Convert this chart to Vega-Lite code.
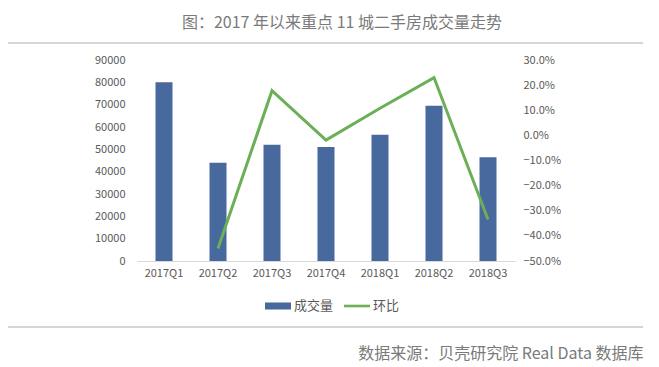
{
  "$schema": "https://vega.github.io/schema/vega-lite/v6.json",
  "width": 378,
  "height": 201,
  "autosize": {"type": "none"},
  "padding": {"left": 137, "top": 60, "right": 144, "bottom": 106},
  "background": "white",
  "config": {
    "font": "Noto Sans CJK SC",
    "view": {"stroke": null},
    "axis": {"grid": false, "ticks": false, "labelFont": "Noto Sans CJK SC", "labelFontSize": 11, "labelColor": "#595959"}
  },
  "title": {
    "text": "图：2017 年以来重点 11 城二手房成交量走势",
    "fontSize": 16,
    "fontWeight": "normal",
    "color": "#7a7a7a",
    "font": "Noto Sans CJK SC",
    "anchor": "middle",
    "frame": "group",
    "dx": 16,
    "offset": 11
  },
  "datasets": {
    "main": [
      {"q": "2017Q1", "vol": 80000, "mom": null},
      {"q": "2017Q2", "vol": 44000, "mom": -0.45},
      {"q": "2017Q3", "vol": 52000, "mom": 0.178},
      {"q": "2017Q4", "vol": 51000, "mom": -0.019},
      {"q": "2018Q1", "vol": 56500, "mom": 0.108},
      {"q": "2018Q2", "vol": 69500, "mom": 0.23},
      {"q": "2018Q3", "vol": 46500, "mom": -0.335}
    ],
    "deco": [{"k": 1}]
  },
  "layer": [
    {
      "data": {"name": "main"},
      "mark": {"type": "bar", "color": "#48699E"},
      "encoding": {
        "x": {
          "field": "q", "type": "ordinal", "sort": null,
          "scale": {"paddingInner": 0.685, "paddingOuter": 0.3425},
          "axis": {
            "labelAngle": 0, "labelPadding": 6, "domainColor": "#d9d9d9", "domainWidth": 1,
            "title": "数据来源：贝壳研究院 Real Data 数据库",
            "titleFontSize": 16, "titleFontWeight": "normal", "titleColor": "#7a7a7a",
            "titleX": 506, "titleY": 97, "titleAlign": "right", "titleBaseline": "alphabetic", "titleAnchor": null
          }
        },
        "y": {
          "field": "vol", "type": "quantitative",
          "scale": {"domain": [0, 90000], "nice": false},
          "axis": {
            "orient": "left", "title": null, "domain": false,
            "values": [0, 10000, 20000, 30000, 40000, 50000, 60000, 70000, 80000, 90000],
            "format": "d", "labelPadding": 12
          }
        },
        "color": {
          "datum": "成交量", "type": "nominal",
          "scale": {"domain": ["成交量", "环比"], "range": ["#48699E", "#6BAF56"]},
          "legend": {
            "orient": "none", "legendX": 128, "legendY": 233,
            "direction": "horizontal", "title": null,
            "labelFontSize": 13, "labelColor": "#595959", "labelOffset": 3,
            "columnPadding": 10, "symbolSize": 676,
            "encode": {
              "symbols": {
                "update": {
                  "shape": {"signal": "datum.value === '成交量' ? 'M-1,-0.27H1V0.27H-1Z' : 'M-1,-0.1H1V0.1H-1Z'"},
                  "fill": {"signal": "scale('color', datum.value)"},
                  "stroke": {"value": null},
                  "strokeWidth": {"value": 0},
                  "opacity": {"value": 1}
                }
              }
            }
          }
        }
      }
    },
    {
      "data": {"name": "main"},
      "mark": {"type": "line", "strokeWidth": 3},
      "encoding": {
        "x": {"field": "q", "type": "ordinal", "sort": null},
        "y": {
          "field": "mom", "type": "quantitative",
          "scale": {"domain": [-0.5, 0.3], "nice": false},
          "axis": {
            "orient": "right", "title": null, "domain": false,
            "values": [-0.5, -0.4, -0.3, -0.2, -0.1, 0, 0.1, 0.2, 0.3],
            "format": ".1%", "labelPadding": 8
          }
        },
        "color": {"datum": "环比", "type": "nominal"}
      }
    },
    {
      "data": {"name": "deco"},
      "mark": {"type": "rule", "color": "#c8c8c8", "strokeWidth": 1.5},
      "encoding": {
        "x": {"value": -129},
        "x2": {"value": 506},
        "y": {"value": -17}
      }
    },
    {
      "data": {"name": "deco"},
      "mark": {"type": "rule", "color": "#c8c8c8", "strokeWidth": 1.5},
      "encoding": {
        "x": {"value": -129},
        "x2": {"value": 506},
        "y": {"value": 267}
      }
    }
  ],
  "resolve": {"scale": {"y": "independent"}}
}
